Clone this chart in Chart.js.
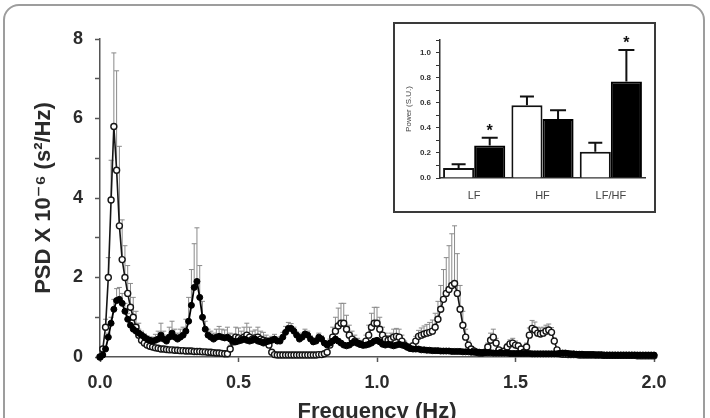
<!DOCTYPE html>
<html>
<head>
<meta charset="utf-8">
<script src="https://cdn.jsdelivr.net/npm/chart.js@4.4.1/dist/chart.umd.min.js"></script>
<style>
  html, body { margin: 0; padding: 0; width: 710px; height: 418px; overflow: hidden; background: #fff; }
  #frame { position: absolute; left: 3px; top: 4px; width: 702px; height: 450px; box-sizing: border-box;
           border: 2px solid #9d9d9d; border-radius: 16px; }
  #psd { position: absolute; left: 0; top: 0; }
  #inset { position: absolute; left: 393px; top: 22px; width: 263px; height: 191px; box-sizing: border-box;
           border: 2px solid #3a3a3a; background: #fff; }
  #inset canvas { display: block; }
</style>
</head>
<body>
<div id="frame"></div>
<canvas id="psd" width="710" height="430"></canvas>
<div id="inset"><canvas id="bars" width="259" height="187"></canvas></div>
<script>
// spectral bins, 0.01 Hz apart, 0 .. 2 Hz
var FREQ_STEP = 0.01;

// open circles: mean PSD (x10^-6 s^2/Hz) and SEM
var openPsd = [
  0, 0.2, 0.75, 2.0, 3.95, 5.8, 4.7, 3.3, 2.45, 2.0,
  1.6, 1.25, 1.0, 0.75, 0.55, 0.42, 0.35, 0.3, 0.27, 0.25,
  0.23, 0.22, 0.2, 0.2, 0.19, 0.18, 0.18, 0.17, 0.17, 0.16,
  0.16, 0.15, 0.15, 0.15, 0.14, 0.14, 0.14, 0.13, 0.13, 0.12,
  0.12, 0.11, 0.1, 0.1, 0.09, 0.08, 0.08, 0.2, 0.38, 0.5,
  0.48, 0.45, 0.5, 0.55, 0.5, 0.45, 0.48, 0.5, 0.45, 0.42,
  0.4, 0.3, 0.12, 0.06, 0.05, 0.05, 0.05, 0.05, 0.05, 0.05,
  0.05, 0.05, 0.05, 0.05, 0.05, 0.05, 0.05, 0.05, 0.05, 0.06,
  0.06, 0.08, 0.12, 0.3, 0.5, 0.65, 0.78, 0.85, 0.85, 0.7,
  0.55, 0.45, 0.4, 0.35, 0.32, 0.3, 0.4, 0.55, 0.75, 0.85,
  0.85, 0.7, 0.55, 0.45, 0.42, 0.45, 0.5, 0.52, 0.5, 0.4,
  0.3, 0.25, 0.22, 0.28, 0.4, 0.52, 0.55, 0.58, 0.6, 0.62,
  0.65, 0.75, 0.95, 1.2, 1.45, 1.6, 1.7, 1.8, 1.85, 1.6,
  1.2, 0.8, 0.5, 0.3, 0.2, 0.15, 0.12, 0.1, 0.1, 0.12,
  0.25, 0.42, 0.5, 0.35, 0.18, 0.12, 0.15, 0.25, 0.33, 0.35,
  0.3, 0.28, 0.2, 0.12, 0.25, 0.55, 0.72, 0.68, 0.6, 0.58,
  0.6, 0.65, 0.68, 0.62, 0.4, 0.18, 0.08, 0.07, 0.07, 0.06,
  0.06, 0.06, 0.06, 0.05, 0.05, 0.05, 0.05, 0.05, 0.05, 0.05,
  0.05, 0.05, 0.04, 0.04, 0.04, 0.04, 0.04, 0.04, 0.04, 0.04,
  0.04, 0.04, 0.04, 0.04, 0.03, 0.03, 0.03, 0.03, 0.03, 0.03,
  0.03
];
var openSem = [
  0, 0.05, 0.2, 0.5, 1.0, 1.85, 2.5, 2.0, 1.0, 0.8,
  0.7, 0.6, 0.5, 0.4, 0.3, 0.2, 0.15, 0.1, 0.08, 0.07,
  0.06, 0.05, 0.05, 0.05, 0.05, 0.04, 0.04, 0.04, 0.04, 0.04,
  0.04, 0.04, 0.04, 0.04, 0.04, 0.04, 0.03, 0.03, 0.03, 0.03,
  0.03, 0.03, 0.03, 0.03, 0.03, 0.03, 0.03, 0.1, 0.2, 0.25,
  0.25, 0.2, 0.25, 0.3, 0.25, 0.2, 0.2, 0.25, 0.2, 0.2,
  0.15, 0.1, 0.05, 0.03, 0.03, 0.03, 0.03, 0.03, 0.03, 0.03,
  0.03, 0.03, 0.03, 0.03, 0.03, 0.03, 0.03, 0.03, 0.03, 0.03,
  0.03, 0.04, 0.05, 0.15, 0.25, 0.35, 0.45, 0.5, 0.5, 0.35,
  0.25, 0.2, 0.15, 0.12, 0.1, 0.1, 0.15, 0.25, 0.35, 0.4,
  0.4, 0.3, 0.2, 0.15, 0.12, 0.15, 0.2, 0.2, 0.2, 0.15,
  0.1, 0.08, 0.06, 0.08, 0.12, 0.15, 0.18, 0.2, 0.22, 0.25,
  0.28, 0.35, 0.45, 0.6, 0.75, 0.9, 1.1, 1.3, 1.45, 1.0,
  0.6, 0.35, 0.2, 0.1, 0.06, 0.05, 0.04, 0.03, 0.03, 0.04,
  0.1, 0.18, 0.2, 0.12, 0.06, 0.04, 0.05, 0.08, 0.1, 0.12,
  0.1, 0.08, 0.05, 0.04, 0.1, 0.18, 0.2, 0.2, 0.15, 0.15,
  0.15, 0.15, 0.15, 0.12, 0.08, 0.04, 0.02, 0.02, 0.02, 0.02,
  0.02, 0.02, 0.02, 0.02, 0.02, 0.02, 0.02, 0.02, 0.02, 0.02,
  0.02, 0.02, 0.02, 0.02, 0.02, 0.02, 0.02, 0.02, 0.02, 0.02,
  0.02, 0.02, 0.02, 0.02, 0.02, 0.02, 0.02, 0.02, 0.02, 0.02,
  0.02
];

// filled circles: mean PSD and SEM
var filledPsd = [
  0, 0.05, 0.2, 0.5, 0.85, 1.2, 1.42, 1.45, 1.35, 1.15,
  0.95, 0.8, 0.7, 0.65, 0.6, 0.55, 0.5, 0.45, 0.42, 0.4,
  0.42, 0.45, 0.55, 0.45, 0.4, 0.5, 0.6, 0.5, 0.45, 0.5,
  0.55, 0.65, 0.9, 1.3, 1.75, 1.9, 1.5, 1.0, 0.7, 0.55,
  0.5, 0.45, 0.5, 0.52, 0.5, 0.48, 0.5, 0.45, 0.4, 0.38,
  0.4, 0.42, 0.45, 0.42, 0.4, 0.42, 0.45, 0.4, 0.38, 0.35,
  0.38, 0.4, 0.42, 0.45, 0.4, 0.4, 0.5, 0.62, 0.72, 0.72,
  0.65, 0.55, 0.45, 0.5, 0.58, 0.55, 0.45, 0.38, 0.4, 0.5,
  0.45, 0.35, 0.3, 0.35, 0.4, 0.45, 0.4, 0.35, 0.3, 0.28,
  0.3, 0.35, 0.38, 0.35, 0.32, 0.3, 0.3, 0.32, 0.35, 0.4,
  0.42, 0.38, 0.32, 0.3, 0.32, 0.3, 0.28, 0.3, 0.32, 0.3,
  0.28, 0.25, 0.22, 0.2, 0.2, 0.2, 0.18, 0.18, 0.17, 0.17,
  0.16, 0.16, 0.16, 0.15, 0.15, 0.15, 0.15, 0.14, 0.14, 0.14,
  0.14, 0.13, 0.13, 0.13, 0.12, 0.12, 0.12, 0.12, 0.11, 0.11,
  0.11, 0.11, 0.1, 0.1, 0.1, 0.1, 0.1, 0.1, 0.09, 0.09,
  0.09, 0.09, 0.09, 0.09, 0.09, 0.09, 0.08, 0.08, 0.08, 0.08,
  0.08, 0.08, 0.08, 0.08, 0.08, 0.08, 0.09, 0.1, 0.1, 0.09,
  0.08, 0.08, 0.07, 0.07, 0.07, 0.06, 0.06, 0.06, 0.06, 0.05,
  0.05, 0.05, 0.05, 0.05, 0.05, 0.05, 0.05, 0.05, 0.05, 0.05,
  0.05, 0.05, 0.05, 0.05, 0.05, 0.05, 0.05, 0.05, 0.05, 0.05,
  0.05
];
var filledSem = [
  0, 0.02, 0.05, 0.1, 0.15, 0.25, 0.3, 0.3, 0.25, 0.2,
  0.15, 0.12, 0.1, 0.1, 0.1, 0.1, 0.08, 0.08, 0.08, 0.1,
  0.15, 0.2, 0.3, 0.2, 0.15, 0.25, 0.3, 0.2, 0.15, 0.2,
  0.2, 0.3, 0.6, 0.9, 1.1, 1.35, 0.8, 0.4, 0.2, 0.15,
  0.15, 0.15, 0.2, 0.25, 0.2, 0.2, 0.25, 0.15, 0.1, 0.1,
  0.1, 0.1, 0.12, 0.1, 0.08, 0.1, 0.1, 0.08, 0.08, 0.08,
  0.08, 0.08, 0.1, 0.12, 0.1, 0.1, 0.12, 0.15, 0.15, 0.12,
  0.1, 0.08, 0.08, 0.1, 0.12, 0.1, 0.08, 0.06, 0.08, 0.1,
  0.08, 0.06, 0.05, 0.05, 0.06, 0.06, 0.05, 0.05, 0.05, 0.05,
  0.05, 0.05, 0.05, 0.05, 0.05, 0.05, 0.05, 0.05, 0.05, 0.05,
  0.05, 0.05, 0.05, 0.05, 0.05, 0.05, 0.05, 0.05, 0.05, 0.05,
  0.04, 0.04, 0.04, 0.04, 0.04, 0.04, 0.04, 0.04, 0.04, 0.04,
  0.03, 0.03, 0.03, 0.03, 0.03, 0.03, 0.03, 0.03, 0.03, 0.03,
  0.03, 0.03, 0.03, 0.03, 0.03, 0.03, 0.03, 0.03, 0.03, 0.03,
  0.03, 0.03, 0.03, 0.03, 0.03, 0.03, 0.03, 0.03, 0.03, 0.03,
  0.03, 0.03, 0.03, 0.03, 0.03, 0.03, 0.03, 0.03, 0.03, 0.03,
  0.03, 0.03, 0.03, 0.03, 0.03, 0.03, 0.03, 0.03, 0.03, 0.03,
  0.02, 0.02, 0.02, 0.02, 0.02, 0.02, 0.02, 0.02, 0.02, 0.02,
  0.02, 0.02, 0.02, 0.02, 0.02, 0.02, 0.02, 0.02, 0.02, 0.02,
  0.02, 0.02, 0.02, 0.02, 0.02, 0.02, 0.02, 0.02, 0.02, 0.02,
  0.02
];

// inset: normalized power (S.U.)
var bandLabels = ['LF', 'HF', 'LF/HF'];
var openPower = [0.08, 0.58, 0.21];
var openPowerSem = [0.03, 0.07, 0.07];
var filledPower = [0.26, 0.47, 0.77];
var filledPowerSem = [0.06, 0.07, 0.25];
var filledStar = [true, false, true];

var FONT = "'Liberation Sans', Arial, 'DejaVu Sans', sans-serif";
Chart.defaults.font.family = FONT;
Chart.defaults.color = '#2b2b2b';
Chart.defaults.animation = false;

function toPoints(vals) {
  return vals.map(function (v, i) { return { x: +(i * FREQ_STEP).toFixed(2), y: v }; });
}

var psdErrorBars = {
  id: 'psdErrorBars',
  beforeDatasetsDraw: function (chart) {
    var ctx = chart.ctx, xs = chart.scales.x, ys = chart.scales.y;
    ctx.save();
    ctx.strokeStyle = '#8a8a8a';
    ctx.lineWidth = 1;
    [[openPsd, openSem], [filledPsd, filledSem]].forEach(function (pair) {
      pair[0].forEach(function (v, i) {
        var e = pair[1][i];
        if (!e) return;
        var px = xs.getPixelForValue(i * FREQ_STEP);
        var y0 = ys.getPixelForValue(v), y1 = ys.getPixelForValue(v + e);
        ctx.beginPath();
        ctx.moveTo(px, y0); ctx.lineTo(px, y1);
        ctx.moveTo(px - 2.5, y1); ctx.lineTo(px + 2.5, y1);
        ctx.stroke();
      });
    });
    ctx.restore();
  }
};

new Chart(document.getElementById('psd'), {
  type: 'line',
  data: {
    datasets: [{
      data: toPoints(openPsd),
      borderColor: '#151515',
      borderWidth: 1.6,
      pointRadius: 3,
      pointBorderWidth: 1.4,
      pointBackgroundColor: '#fff',
      pointBorderColor: '#151515',
      clip: false,
      order: 2
    }, {
      data: toPoints(filledPsd),
      borderColor: '#000',
      borderWidth: 1.8,
      pointRadius: 3,
      pointBorderWidth: 1,
      pointBackgroundColor: '#000',
      pointBorderColor: '#000',
      clip: false,
      order: 1
    }]
  },
  options: {
    responsive: false,
    layout: { padding: { left: 0, top: 39, right: 56, bottom: 0 } },
    plugins: { legend: { display: false }, tooltip: { enabled: false } },
    scales: {
      x: {
        type: 'linear', min: 0, max: 2,
        afterFit: function (s) { s.height = 73; },
        border: { color: '#555', width: 1.5 },
        grid: { drawOnChartArea: false, tickLength: 5, tickColor: '#555', tickWidth: 1.5 },
        ticks: { stepSize: 0.5, padding: 10, font: { size: 18, weight: 'bold' },
                 callback: function (v) { return v.toFixed(1); } },
        title: { display: true, text: 'Frequency (Hz)', font: { size: 22, weight: 'bold' },
                 padding: { top: 0, bottom: 5 } }
      },
      y: {
        min: 0, max: 8,
        afterFit: function (s) { s.width = 100; },
        border: { color: '#555', width: 1.5 },
        grid: { drawOnChartArea: false, tickLength: 5, tickColor: '#555', tickWidth: 1.5 },
        ticks: { stepSize: 1, autoSkip: false, padding: 12, font: { size: 18, weight: 'bold' },
                 callback: function (v) { return v % 2 === 0 ? v : ''; } },
        title: { display: true, text: 'PSD X 10\u207B\u2076 (s\u00B2/Hz)', font: { size: 22, weight: 'bold' },
                 padding: { top: 31, bottom: 0 } }
      }
    }
  },
  plugins: [psdErrorBars]
});

var barErrorsAndStars = {
  id: 'barErrorsAndStars',
  afterDatasetsDraw: function (chart) {
    var ctx = chart.ctx, ys = chart.scales.y;
    var sems = [openPowerSem, filledPowerSem];
    var vals = [openPower, filledPower];
    ctx.save();
    ctx.strokeStyle = '#111';
    ctx.lineWidth = 2;
    [0, 1].forEach(function (d) {
      chart.getDatasetMeta(d).data.forEach(function (bar, i) {
        var top = ys.getPixelForValue(vals[d][i]);
        var cap = ys.getPixelForValue(vals[d][i] + sems[d][i]);
        var half = d === 1 ? 8 : 7;
        ctx.beginPath();
        ctx.moveTo(bar.x, top); ctx.lineTo(bar.x, cap);
        ctx.moveTo(bar.x - half, cap); ctx.lineTo(bar.x + half, cap);
        ctx.stroke();
        if (d === 1 && filledStar[i]) {
          ctx.fillStyle = '#111';
          ctx.font = 'bold 16px ' + FONT;
          ctx.textAlign = 'center';
          ctx.textBaseline = 'middle';
          ctx.fillText('*', bar.x, cap - 6);
        }
      });
    });
    ctx.restore();
  }
};

new Chart(document.getElementById('bars'), {
  type: 'bar',
  data: {
    labels: bandLabels,
    datasets: [{
      data: openPower,
      backgroundColor: '#fff',
      borderColor: '#111',
      borderWidth: 2,
      categoryPercentage: 0.91,
      barPercentage: 1.0
    }, {
      data: filledPower,
      backgroundColor: '#000',
      borderColor: '#000',
      borderWidth: 2,
      categoryPercentage: 0.91,
      barPercentage: 1.0
    }]
  },
  options: {
    responsive: false,
    layout: { padding: { left: 0, top: 16, right: 9, bottom: 0 } },
    plugins: { legend: { display: false }, tooltip: { enabled: false } },
    scales: {
      x: {
        afterFit: function (s) { s.height = 33; },
        border: { color: '#333', width: 1.5 },
        grid: { display: false, drawTicks: false },
        ticks: { padding: 11, color: '#444', font: { size: 11 } }
      },
      y: {
        min: 0, max: 1.1,
        afterFit: function (s) { s.width = 45; },
        border: { color: '#333', width: 1.5 },
        grid: { drawOnChartArea: false, tickLength: 4, tickColor: '#333' },
        ticks: { stepSize: 0.1, autoSkip: false, padding: 5, color: '#333', font: { size: 8, weight: 'bold' },
                 callback: function (v) {
                   var r = Math.round(v * 10);
                   return (r % 2 === 0 && r <= 10) ? (r / 10).toFixed(1) : '';
                 } },
        title: { display: true, text: 'Power (S.U.)', color: '#444', font: { size: 8 },
                 padding: { top: 9, bottom: 0 } }
      }
    }
  },
  plugins: [barErrorsAndStars]
});
</script>
</body>
</html>
